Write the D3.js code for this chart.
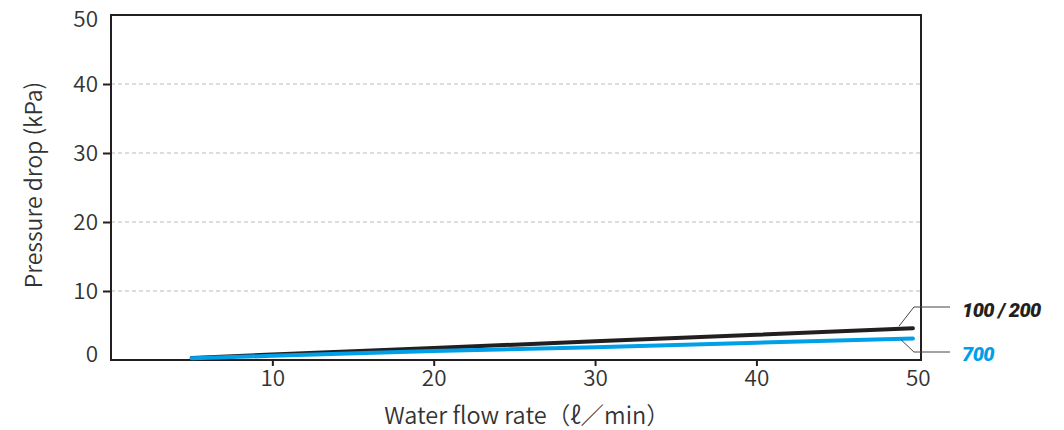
<!DOCTYPE html>
<html>
<head>
<meta charset="utf-8">
<script src="https://cdn.jsdelivr.net/npm/d3@7"></script>
<style>
  body { margin: 0; background: #fff; }
  svg { display: block; font-family: "Noto Sans CJK JP", "Noto Sans", sans-serif; }
  .tick text { fill: #333; font-size: 22.5px; font-family: "Noto Sans CJK JP", "Noto Sans", sans-serif; font-weight: 350; }
  .grid line { stroke: #bbb; stroke-dasharray: 4 3; }
</style>
</head>
<body>
<div id="chart"></div>
<script>
'use strict';

// flow rate (l/min) and pressure drop (kPa)
var flows = [5, 10, 20, 30, 40, 49.7],
    drop100200 = [0.3, 0.8, 1.75, 2.7, 3.65, 4.6],
    drop700 = [0.25, 0.6, 1.3, 1.85, 2.5, 3.1],
    xTicks = [10, 20, 30, 40, 50],
    yTicks = [0, 10, 20, 30, 40, 50];

var series = [
  {name: '100 / 200', values: drop100200, color: '#231f20'},
  {name: '700', values: drop700, color: '#00a0e9'}
];

var width = 1064,
    height = 430,
    margin = {top: 15, right: 143, bottom: 70, left: 111};

var svg = d3.select('#chart').append('svg')
    .attr('width', width)
    .attr('height', height);

var x = d3.scaleLinear().domain([0, 50.2]).range([margin.left, width - margin.right]),
    y = d3.scaleLinear().domain([0, 50]).range([height - margin.bottom, margin.top]);

// dashed grid
svg.append('g')
    .attr('class', 'grid')
    .selectAll('line')
    .data(yTicks.filter(function (d) { return d > 0 && d < 50; }))
    .enter().append('line')
    .attr('x1', x.range()[0])
    .attr('x2', x.range()[1])
    .attr('y1', function (d) { return y(d); })
    .attr('y2', function (d) { return y(d); });

// axes
var xAxis = svg.append('g')
    .attr('transform', 'translate(0,' + y(0) + ')')
    .call(d3.axisBottom(x).tickValues(xTicks).tickSize(6).tickPadding(4));
xAxis.select('.domain').remove();

var yAxis = svg.append('g')
    .attr('transform', 'translate(' + x(0) + ',0)')
    .call(d3.axisLeft(y).tickValues(yTicks).tickSize(8).tickPadding(5));
yAxis.select('.domain').remove();

// the end labels sit inside the frame, as in the original
yAxis.selectAll('.tick text')
    .attr('dy', function (d) {
      return d === 0 ? '0.05em' : (d === 50 ? '0.5em' : '0.32em');
    });

svg.selectAll('.tick line').attr('stroke', '#231f20').attr('stroke-width', 2);

// no tick marks at the frame corners
yAxis.selectAll('.tick')
    .filter(function (d) { return d === 0 || d === 50; })
    .select('line').remove();
xAxis.selectAll('.tick')
    .filter(function (d) { return d === 50; })
    .select('line').remove();

// frame
svg.append('rect')
    .attr('x', x.range()[0])
    .attr('y', y.range()[1])
    .attr('width', x.range()[1] - x.range()[0])
    .attr('height', y.range()[0] - y.range()[1])
    .attr('fill', 'none')
    .attr('stroke', '#231f20')
    .attr('stroke-width', 2);

// curves
var line = d3.line()
    .x(function (d, i) { return x(flows[i]); })
    .y(function (d) { return y(d); });

svg.append('g').selectAll('path')
    .data(series)
    .enter().append('path')
    .attr('d', function (s) { return line(s.values); })
    .attr('fill', 'none')
    .attr('stroke', function (s) { return s.color; })
    .attr('stroke-width', 4)
    .attr('stroke-linecap', 'round');

// leader lines and series labels
var last = flows.length - 1,
    labels = [
      {s: series[0], dx: -14, dy: -2, ky: 307, ty: 317},
      {s: series[1], dx: -12, dy: 1, ky: 352, ty: 361}
    ];

labels.forEach(function (l) {
  var px = x(flows[last]) + l.dx,
      py = y(l.s.values[last]) + l.dy;

  svg.append('path')
      .attr('d', 'M ' + px + ' ' + py +
          ' L ' + (x(flows[last]) + 1) + ' ' + l.ky +
          ' L 950 ' + l.ky)
      .attr('fill', 'none')
      .attr('stroke', '#444')
      .attr('stroke-width', 1);

  svg.append('text')
      .attr('x', 962)
      .attr('y', l.ty)
      .attr('fill', l.s.color)
      .attr('font-family', 'Roboto, "Liberation Sans", sans-serif')
      .attr('font-weight', 900)
      .attr('font-style', 'italic')
      .attr('font-size', 20)
      .attr('letter-spacing', -0.6)
      .text(l.s.name);
});

// axis titles
svg.append('text')
    .attr('x', 527)
    .attr('y', 424)
    .attr('text-anchor', 'middle')
    .attr('fill', '#333')
    .attr('font-size', 23.5)
    .attr('font-weight', 350)
    .text('Water flow rate（ℓ／min）');

svg.append('text')
    .attr('transform', 'translate(42,' + 185 + ') rotate(-90)')
    .attr('text-anchor', 'middle')
    .attr('fill', '#333')
    .attr('font-size', 23)
    .attr('font-weight', 350)
    .text('Pressure drop (kPa)');
</script>
</body>
</html>
